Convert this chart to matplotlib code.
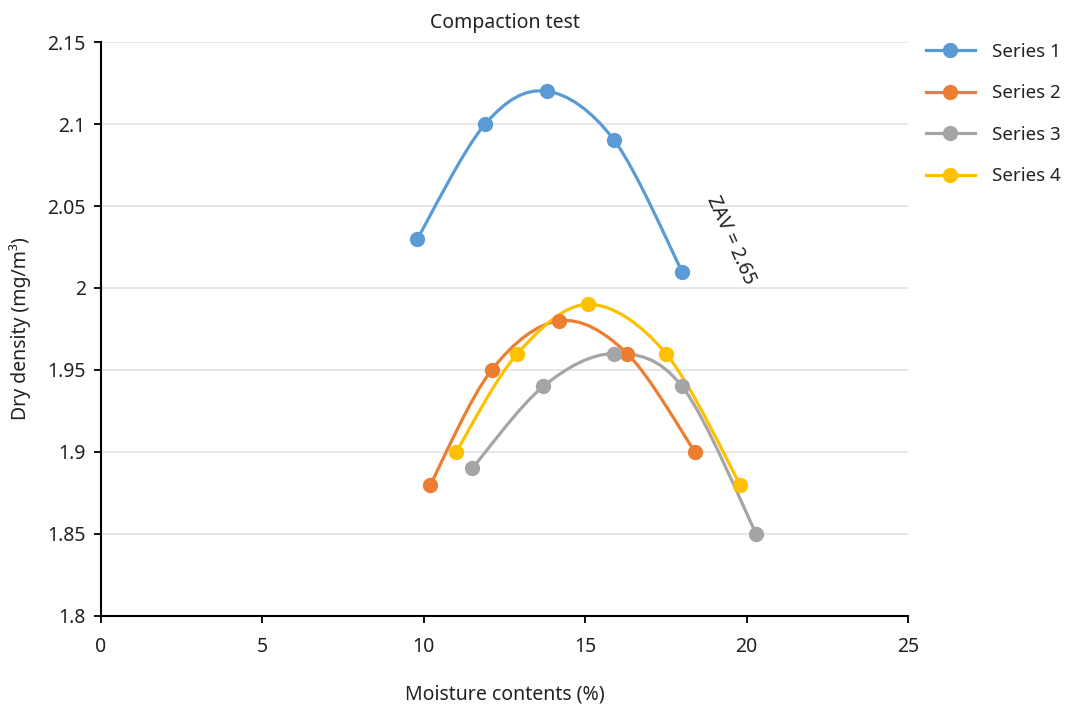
import matplotlib
matplotlib.use("Agg")
import matplotlib.pyplot as plt
from matplotlib.path import Path
from matplotlib.patches import PathPatch
from matplotlib.lines import Line2D

plt.rcParams['font.family'] = ['Noto Sans', 'DejaVu Sans']

# Compaction test results: moisture content (%) vs dry density (mg/m3)
series_names = ['Series 1', 'Series 2', 'Series 3', 'Series 4']
moisture_1 = [9.8, 11.9, 13.8, 15.9, 18.0]
density_1 = [2.03, 2.10, 2.12, 2.09, 2.01]
moisture_2 = [10.2, 12.1, 14.2, 16.3, 18.4]
density_2 = [1.88, 1.95, 1.98, 1.96, 1.90]
moisture_3 = [11.5, 13.7, 15.9, 18.0, 20.3]
density_3 = [1.89, 1.94, 1.96, 1.94, 1.85]
moisture_4 = [11.0, 12.9, 15.1, 17.5, 19.8]
density_4 = [1.90, 1.96, 1.99, 1.96, 1.88]
colors = ['#5B9BD5', '#ED7D31', '#A5A5A5', '#FFC000']

x_ticks = [0, 5, 10, 15, 20, 25]
y_ticks = [1.8, 1.85, 1.9, 1.95, 2.0, 2.05, 2.1, 2.15]
y_tick_labels = ['1.8', '1.85', '1.9', '1.95', '2', '2.05', '2.1', '2.15']


def smooth_path(xs, ys):
    # cubic bezier through every point, spreadsheet-style smoothing
    pts = list(zip(xs, ys))
    n = len(pts)
    verts = [pts[0]]
    codes = [Path.MOVETO]
    for i in range(n - 1):
        p0 = pts[i - 1] if i > 0 else pts[i]
        p1 = pts[i]
        p2 = pts[i + 1]
        p3 = pts[i + 2] if i + 2 < n else pts[i + 1]
        c1 = (p1[0] + (p2[0] - p0[0]) / 6, p1[1] + (p2[1] - p0[1]) / 6)
        c2 = (p2[0] - (p3[0] - p1[0]) / 6, p2[1] - (p3[1] - p1[1]) / 6)
        verts += [c1, c2, p2]
        codes += [Path.CURVE4] * 3
    return Path(verts, codes)


fig = plt.figure(figsize=(10.76, 7.06), dpi=100)
ax = fig.add_axes([0.0939, 0.1275, 0.75, 0.813])

all_x = [moisture_1, moisture_2, moisture_3, moisture_4]
all_y = [density_1, density_2, density_3, density_4]
handles = []
for xs, ys, c, name in zip(all_x, all_y, colors, series_names):
    ax.add_patch(PathPatch(smooth_path(xs, ys), facecolor='none', edgecolor=c,
                           lw=2.3, zorder=3, capstyle='round'))
    ax.plot(xs, ys, 'o', color=c, markersize=10, zorder=4)
    handles.append(Line2D([], [], color=c, lw=2.3, marker='o', markersize=10))

ax.set_xlim(0, 25)
ax.set_ylim(1.8, 2.15)
ax.set_xticks(x_ticks)
ax.set_yticks(y_ticks)
ax.set_yticklabels(y_tick_labels)
ax.tick_params(labelsize=14, colors='black', length=5, width=1.3, labelcolor='#222222')
ax.tick_params(axis='x', pad=10)
ax.tick_params(axis='y', pad=6)
ax.yaxis.grid(True, color='#E3E3E3', lw=1.2)
ax.set_axisbelow(True)
for s in ['top', 'right']:
    ax.spines[s].set_visible(False)
for s in ['left', 'bottom']:
    ax.spines[s].set_linewidth(1.5)

ax.set_title('Compaction test', fontsize=14, color='#222222', pad=10)
ax.set_xlabel('Moisture contents (%)', fontsize=14, color='#222222', labelpad=20)
ax.set_ylabel('Dry density (mg/m³)', fontsize=14, color='#222222', labelpad=12)

ax.text(19.5, 2.029, 'ZAV = 2.65', rotation=-66, fontsize=14, color='#222222',
        ha='center', va='center', rotation_mode='anchor')

fig.legend(handles, series_names, loc='upper left', bbox_to_anchor=(0.845, 0.963),
           frameon=False, fontsize=13.5, handlelength=2.6, labelspacing=1.25,
           handletextpad=0.9, labelcolor='#222222')

fig.savefig('out.png', dpi=100)
